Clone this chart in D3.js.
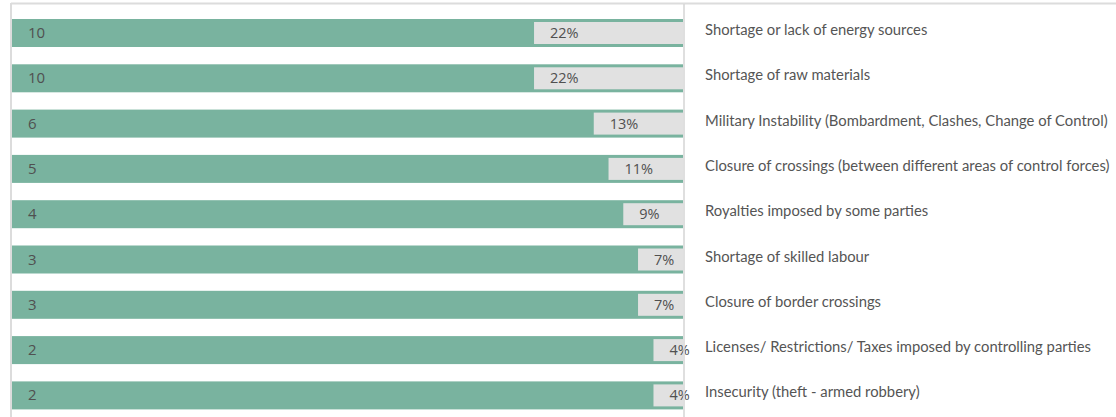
<!DOCTYPE html>
<html><head><meta charset="utf-8">
<script src="https://cdn.jsdelivr.net/npm/d3@7"></script>
<style>body{margin:0;background:#fff;} svg{display:block;}</style>
</head><body>
<svg id="c" width="1116" height="417"></svg>
<script>
const categories = [
  "Shortage or lack of energy sources",
  "Shortage of raw materials",
  "Military Instability (Bombardment, Clashes, Change of Control)",
  "Closure of crossings (between different areas of control forces)",
  "Royalties imposed by some parties",
  "Shortage of skilled labour",
  "Closure of border crossings",
  "Licenses/ Restrictions/ Taxes imposed by controlling parties",
  "Insecurity (theft - armed robbery)"
];
const counts = [10, 10, 6, 5, 4, 3, 3, 2, 2];
const percents = [22.2, 22.2, 13.3, 11.1, 8.9, 6.7, 6.7, 4.4, 4.4];
const percentLabels = ["22%", "22%", "13%", "11%", "9%", "7%", "7%", "4%", "4%"];

const svg = d3.select("#c");
const x = d3.scaleLinear().domain([0, 100]).range([12, 683]);
const y = d3.scaleBand().domain(categories).range([19, 409.4]).paddingInner(0.382).paddingOuter(0);

// frame
svg.append("line").attr("x1", 11).attr("x2", 1116).attr("y1", 3.5).attr("y2", 3.5).attr("stroke", "#dcdcdc").attr("stroke-width", 2);
svg.append("line").attr("x1", 11).attr("x2", 11).attr("y1", 3).attr("y2", 417).attr("stroke", "#dcdcdc").attr("stroke-width", 2);

const rows = svg.selectAll("g.row").data(categories).enter().append("g").attr("class", "row");
const bw = y.bandwidth();
rows.append("rect").attr("x", x(0)).attr("width", x(100) - x(0))
  .attr("y", d => y(d)).attr("height", bw).attr("fill", "#79b39f");
rows.append("rect").attr("x", (d, i) => x(100 - percents[i])).attr("width", (d, i) => x(100) - x(100 - percents[i]))
  .attr("y", d => y(d) + 3).attr("height", bw - 6).attr("fill", "#e1e1e1");
rows.append("text").attr("x", 28).attr("y", d => y(d) + bw / 2 + 5)
  .attr("font-family", "Open Sans, sans-serif").attr("font-size", 15).attr("fill", "#505050")
  .text((d, i) => counts[i]);
rows.append("text").attr("x", (d, i) => x(100 - percents[i]) + 16).attr("y", d => y(d) + bw / 2 + 5)
  .attr("font-family", "Open Sans, sans-serif").attr("font-size", 14.5).attr("fill", "#505050")
  .text((d, i) => percentLabels[i]);
rows.append("text").attr("x", 705).attr("y", d => y(d) + bw / 2 + 2)
  .attr("font-family", "Lato, sans-serif").attr("font-size", 14.8).attr("fill", "#555")
  .text(d => d);

svg.append("line").attr("x1", 684).attr("x2", 684).attr("y1", 4).attr("y2", 417).attr("stroke", "#d4d4d4").attr("stroke-width", 1.5);
</script>
</body></html>
